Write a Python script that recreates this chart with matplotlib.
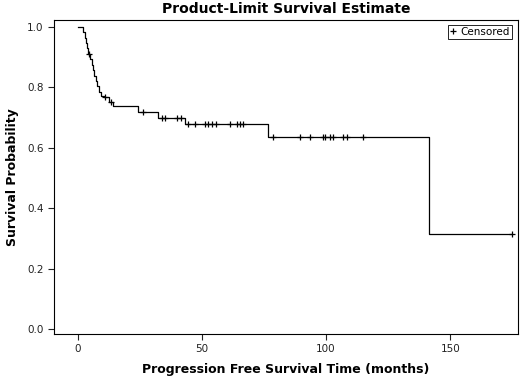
import numpy as np
import matplotlib
matplotlib.use("Agg")
import matplotlib.pyplot as plt

# step function (event times and survival after each drop)
event_times = [0, 2.2, 2.8, 3.3, 3.8, 4.2, 5.0, 5.6, 6.2, 6.8, 7.4, 8.0, 8.8, 9.6, 10.6,
               12.8, 14.2, 24.5, 32.5, 43.4, 76.7, 141.4]
surv = [1.0, 0.982, 0.964, 0.946, 0.929, 0.911, 0.893, 0.875, 0.857, 0.839, 0.821,
        0.803, 0.786, 0.770, 0.768, 0.752, 0.737, 0.717, 0.698, 0.678, 0.635, 0.316]
censor_times = [4.4, 11.2, 13.3, 26.5, 34.1, 35.3, 40.2, 41.8, 44.6, 47.4, 51.4, 52.4,
                54.3, 55.8, 61.4, 64.3, 65.5, 66.7, 78.8, 89.6, 93.6, 98.6, 99.4, 101.6,
                102.8, 106.8, 108.4, 114.9, 175.0]
last_time = 175.0

t_steps = event_times + [last_time]
s_steps = surv + [surv[-1]]
idx = np.searchsorted(event_times, censor_times, side="right") - 1
censor_surv = [surv[i] for i in idx]

fig = plt.figure(figsize=(5.2, 3.83), dpi=100)
ax = fig.add_axes([54/520, 49/383, 464/520, 314/383])

ax.step(t_steps, s_steps, where="post", color="black", lw=0.9)
ax.plot(censor_times, censor_surv, "+", color="black", ms=5, mew=0.9, label="Censored")

ax.set_xlim(-9.5, 177.3)
ax.set_ylim(-0.0166, 1.023)
ax.set_xticks([0, 50, 100, 150])
ax.set_yticks([0, 0.2, 0.4, 0.6, 0.8, 1.0])
ax.set_yticklabels(["0.0", "0.2", "0.4", "0.6", "0.8", "1.0"])
ax.tick_params(labelsize=7.5, length=4, width=0.8, colors="#222222")
for sp in ax.spines.values():
    sp.set_linewidth(0.8)

ax.set_xlabel("Progression Free Survival Time (months)", fontsize=9, fontweight="bold", labelpad=6)
ax.set_ylabel("Survival Probability", fontsize=9, fontweight="bold", labelpad=6)
ax.set_title("Product-Limit Survival Estimate", fontsize=10, fontweight="bold", pad=5)

leg = ax.legend(loc="upper right", fontsize=7.5, handlelength=0.6, handletextpad=0.4,
                borderpad=0.2, borderaxespad=0, fancybox=False, framealpha=1,
                edgecolor="black", bbox_to_anchor=(0.987, 0.984))
leg.get_frame().set_linewidth(0.6)

fig.savefig("out.png", dpi=100)
